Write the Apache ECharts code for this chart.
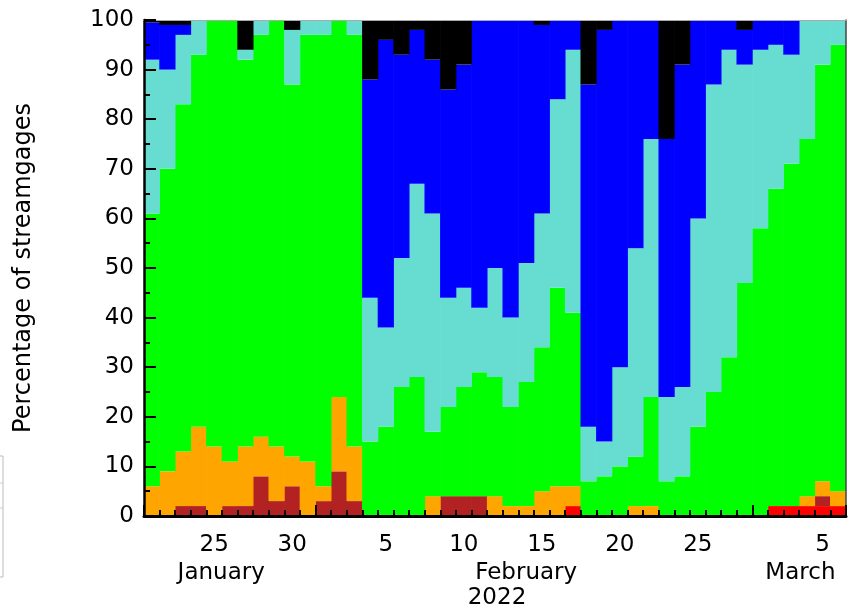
<!DOCTYPE html>
<html><head><meta charset="utf-8">
<script src="https://cdn.jsdelivr.net/npm/echarts@6/dist/echarts.min.js"></script>
<style>html,body{margin:0;padding:0;background:#fff}#c{width:857px;height:610px}</style>
</head><body><div id="c"></div>
<script>
const categories = ["Jan 21","Jan 22","Jan 23","Jan 24","Jan 25","Jan 26","Jan 27","Jan 28","Jan 29","Jan 30","Jan 31",
  "Feb 1","Feb 2","Feb 3","Feb 4","Feb 5","Feb 6","Feb 7","Feb 8","Feb 9","Feb 10","Feb 11","Feb 12","Feb 13","Feb 14",
  "Feb 15","Feb 16","Feb 17","Feb 18","Feb 19","Feb 20","Feb 21","Feb 22","Feb 23","Feb 24","Feb 25","Feb 26","Feb 27","Feb 28",
  "Mar 1","Mar 2","Mar 3","Mar 4","Mar 5","Mar 6"];
// percentage of streamgages in each flow class
const low      = [0,0,0,0,0,0,0,0,0,0,0, 0,0,0,0,0,0,0,0,0,0,0,0,0,0,0,0,2,0,0,0,0,0,0,0,0,0,0,0, 0,2,2,2,2,2];
const below10  = [0,0,2,2,0,2,2,8,3,6,0, 3,9,3,0,0,0,0,0,4,4,4,0,0,0,0,0,0,0,0,0,0,0,0,0,0,0,0,0, 0,0,0,0,2,0];
const p10to24  = [6,9,11,16,14,9,12,8,11,6,11, 3,15,11,0,0,0,0,4,0,0,0,4,2,2,5,6,4,0,0,0,2,2,0,0,0,0,0,0, 0,0,0,2,3,3];
const p25to75  = [55,61,70,75,86,89,78,81,86,75,86, 91,76,83,15,18,26,28,13,18,22,25,24,20,25,29,40,35,7,8,10,10,22,7,8,18,25,32,47, 58,64,69,72,84,90];
const p76to90  = [31,20,14,7,0,0,2,3,0,11,3, 3,0,3,29,20,26,39,44,22,20,13,22,18,24,27,38,53,11,7,20,42,52,17,18,42,62,62,44, 36,29,22,24,9,5];
const above90  = [7.5,9,2,0,0,0,0,0,0,0,0, 0,0,0,44,58,41,31,31,42,45,58,50,60,49,38,16,6,69,83,70,46,24,52,65,40,13,6,7, 6,5,7,0,0,0];
const high     = [0.5,1,1,0,0,0,6,0,0,2,0, 0,0,0,12,4,7,2,8,14,9,0,0,0,0,1,0,0,13,2,0,0,0,24,9,0,0,0,2, 0,0,0,0,0,0];

const yTicks = [0,10,20,30,40,50,60,70,80,90,100];
const dayLabels = {"Jan 25":"25","Jan 30":"30","Feb 5":"5","Feb 10":"10","Feb 15":"15","Feb 20":"20","Feb 25":"25","Mar 5":"5"};
const monthLabels = {"Jan 25":"{j|January}","Feb 14":"{f|February}","Mar 3":"{m|March}"};
const yearLabels = {"Feb 12":"{y|2022}"};
const monthStarts = ["Jan 21","Feb 1","Mar 1"];

const FONT = 'DejaVu Sans';
const seriesDefs = [
  ['Low', low, '#FF0000'],
  ['<10', below10, '#B22222'],
  ['10-24', p10to24, '#FFA500'],
  ['25-75', p25to75, '#00FF00'],
  ['76-90', p76to90, '#66DDD0'],
  ['>90', above90, '#0000FF'],
  ['High', high, '#000000']
];

const chart = echarts.init(document.getElementById('c'), null, {renderer:'canvas'});
const baseX = {type:'category', data:categories, gridIndex:0, position:'bottom', boundaryGap:true, z:10};
chart.setOption({
  animation:false,
  backgroundColor:'#fff',
  grid:{left:144, right:11, top:20, bottom:93, containLabel:false},
  xAxis:[
    Object.assign({}, baseX, {
      axisLine:{show:true, lineStyle:{color:'#000', width:3}},
      axisTick:{show:true, inside:true, length:6, interval:0, lineStyle:{color:'#000', width:2}},
      axisLabel:{interval:0, margin:18, fontSize:23, fontFamily:FONT, color:'#000', formatter:v => dayLabels[v] || ''},
      splitLine:{show:false}
    }),
    Object.assign({}, baseX, {
      axisLine:{show:false},
      axisTick:{show:true, inside:true, length:11, interval:(i, v) => monthStarts.includes(v), lineStyle:{color:'#000', width:2}},
      axisLabel:{show:false}, splitLine:{show:false}
    }),
    Object.assign({}, baseX, {
      axisLine:{show:false}, axisTick:{show:false}, splitLine:{show:false},
      axisLabel:{interval:0, margin:46, fontSize:23, fontFamily:FONT, color:'#000', formatter:v => monthLabels[v] || '',
        rich:{j:{fontSize:23, fontFamily:FONT, color:'#000', padding:[0,0,0,14]},
              f:{fontSize:23, fontFamily:FONT, color:'#000'},
              m:{fontSize:23, fontFamily:FONT, color:'#000', padding:[0,0,0,18]}}}
    }),
    Object.assign({}, baseX, {
      axisLine:{show:false}, axisTick:{show:false}, splitLine:{show:false},
      axisLabel:{interval:0, margin:71, fontSize:23, fontFamily:FONT, color:'#000', formatter:v => yearLabels[v] || '',
        rich:{y:{fontSize:23, fontFamily:FONT, color:'#000', padding:[0,0,0,4]}}}
    }),
    Object.assign({}, baseX, {
      position:'top',
      axisLine:{show:true, lineStyle:{color:'#aaa', width:1}}, axisTick:{show:false}, axisLabel:{show:false}, splitLine:{show:false}
    })
  ],
  yAxis:[
    {type:'value', min:yTicks[0], max:yTicks[yTicks.length-1], interval:10, position:'left', z:10,
     name:'Percentage of streamgages', nameLocation:'middle', nameGap:108, nameRotate:90,
     nameTextStyle:{fontSize:24, fontFamily:FONT, color:'#000'},
     axisLine:{show:true, lineStyle:{color:'#000', width:2.5}},
     axisTick:{show:true, inside:true, length:12, lineStyle:{color:'#000', width:2}},
     minorTick:{show:true, splitNumber:2, length:6, lineStyle:{color:'#000', width:2}},
     splitLine:{show:false},
     axisLabel:{margin:10, fontSize:23, fontFamily:FONT, color:'#000'}
    },
    {type:'value', min:0, max:100, position:'right', z:10,
     axisLine:{show:true, lineStyle:{color:'#444', width:1.5}}, axisTick:{show:false}, axisLabel:{show:false}, splitLine:{show:false}}
  ],
  graphic:[
    {type:'rect', shape:{x:-10, y:456, width:13, height:121}, style:{fill:'none', stroke:'#bbb', lineWidth:1}},
    {type:'line', shape:{x1:0, y1:483, x2:3, y2:483}, style:{stroke:'#ccc', lineWidth:1}},
    {type:'line', shape:{x1:0, y1:508, x2:3, y2:508}, style:{stroke:'#ccc', lineWidth:1}}
  ],
  series: seriesDefs.map(([name, data, color]) => ({
    name, type:'bar', stack:'total', data, barWidth:'104%', barCategoryGap:'0%',
    itemStyle:{color, borderWidth:0}, emphasis:{disabled:true}
  }))
});
</script></body></html>
